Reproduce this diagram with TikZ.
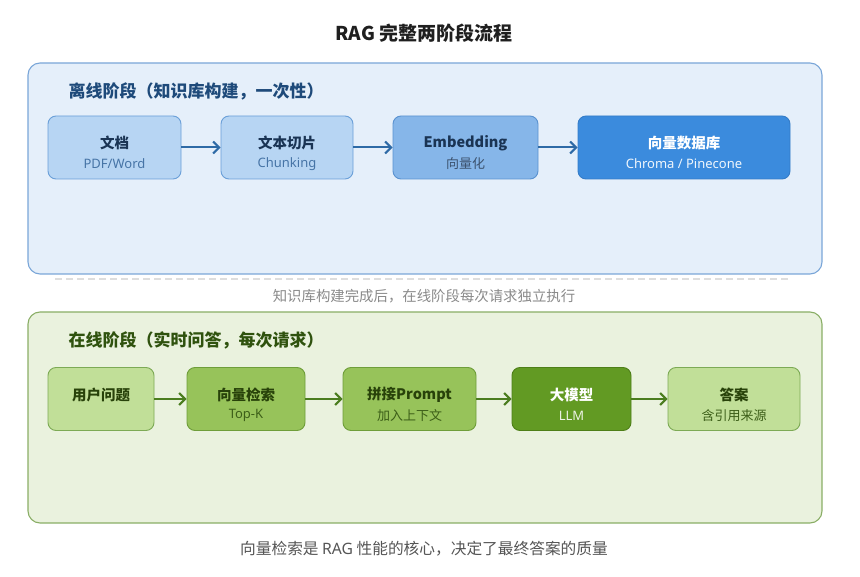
\documentclass[tikz,border=0pt]{standalone}
\usepackage{fontspec}
\usepackage{tikz}
\usetikzlibrary{arrows.meta}
\newfontfamily\cjk{Noto Sans CJK SC}
\newfontfamily\lat{Noto Sans}
\definecolor{offbg}{RGB}{229,239,250}
\definecolor{offedge}{RGB}{122,166,216}
\definecolor{offlight}{RGB}{183,213,243}
\definecolor{offlightedge}{RGB}{106,159,216}
\definecolor{offmid}{RGB}{134,182,233}
\definecolor{offmidedge}{RGB}{90,146,208}
\definecolor{offdark}{RGB}{59,139,221}
\definecolor{offdarkedge}{RGB}{52,124,200}
\definecolor{offtitle}{RGB}{30,74,122}
\definecolor{offtext}{RGB}{26,52,84}
\definecolor{offsub}{RGB}{70,116,166}
\definecolor{offarrow}{RGB}{46,106,166}
\definecolor{onbg}{RGB}{234,242,222}
\definecolor{onedge}{RGB}{138,174,102}
\definecolor{onlight}{RGB}{193,223,152}
\definecolor{onlightedge}{RGB}{125,170,85}
\definecolor{onmid}{RGB}{151,195,90}
\definecolor{onmidedge}{RGB}{111,158,58}
\definecolor{ondark}{RGB}{98,154,35}
\definecolor{ondarkedge}{RGB}{78,127,24}
\definecolor{ontitle}{RGB}{47,82,14}
\definecolor{ontext}{RGB}{40,66,10}
\definecolor{onsub}{RGB}{60,94,24}
\definecolor{onarrow}{RGB}{75,125,31}
\definecolor{dashgrey}{RGB}{222,222,222}
\definecolor{notegrey}{RGB}{138,138,138}
\definecolor{footgrey}{RGB}{85,85,85}

\begin{document}
\begin{tikzpicture}[x=1pt,y=-1pt,
    panel/.style={rounded corners=12pt, line width=1.1pt},
    stage/.style={rectangle, rounded corners=8pt, line width=0.9pt, inner sep=0pt, minimum height=63pt},
    maintxt/.style={font=\cjk\bfseries\fontsize{14.5}{16}\selectfont},
    subtxt/.style={font=\cjk\fontsize{13}{15}\selectfont},
    flow/.style={line width=2pt, -{Straight Barb[length=6pt,width=12pt,line width=2pt]}}]
  \useasboundingbox (0,0) rectangle (860,577);

  % title
  \node[font=\cjk\bfseries\fontsize{19}{21}\selectfont, text=black!88] (title) at (424,33) {RAG 完整两阶段流程};

  % offline stage
  \draw[panel, fill=offbg, draw=offedge] (28,63) rectangle (822,274);
  \node[anchor=west, font=\cjk\bfseries\fontsize{17}{19}\selectfont, text=offtitle] (offhead) at (65,91) {离线阶段（知识库构建，一次性）};

  \node[stage, fill=offlight, draw=offlightedge, minimum width=133pt] (doc) at (114.5,147.5) {};
  \node[stage, fill=offlight, draw=offlightedge, minimum width=132pt] (chunk) at (287,147.5) {};
  \node[stage, fill=offmid, draw=offmidedge, minimum width=145pt] (embed) at (465.5,147.5) {};
  \node[stage, fill=offdark, draw=offdarkedge, minimum width=212pt] (vdb) at (684,147.5) {};

  \node[maintxt, text=offtext] at ([yshift=4.5pt]doc.center) {文档};
  \node[subtxt, text=offsub] at ([yshift=-16.5pt]doc.center) {\lat PDF/Word};
  \node[maintxt, text=offtext] at ([yshift=4.5pt]chunk.center) {文本切片};
  \node[subtxt, text=offsub] at ([yshift=-16.5pt]chunk.center) {\lat Chunking};
  \node[maintxt, text=offtext] at ([yshift=4.5pt]embed.center) {Embedding};
  \node[subtxt, text=offtext!85] at ([yshift=-16.5pt]embed.center) {向量化};
  \node[maintxt, text=white] at ([yshift=4.5pt]vdb.center) {向量数据库};
  \node[subtxt, text=white!92!offdark] at ([yshift=-16.5pt]vdb.center) {\lat Chroma / Pinecone};

  \draw[flow, offarrow] (doc) -- (chunk);
  \draw[flow, offarrow] (chunk) -- (embed);
  \draw[flow, offarrow] (embed) -- (vdb);

  % separator
  \draw[dashgrey, line width=1.3pt, dash pattern=on 7pt off 4pt] (55,279) -- (790,279);
  \node[font=\cjk\fontsize{14.4}{16}\selectfont, text=notegrey] (note) at (424,296) {知识库构建完成后，在线阶段每次请求独立执行};

  % online stage
  \draw[panel, fill=onbg, draw=onedge] (28,312) rectangle (822,523);
  \node[anchor=west, font=\cjk\bfseries\fontsize{17}{19}\selectfont, text=ontitle] (onhead) at (65,340) {在线阶段（实时问答，每次请求）};

  \node[stage, fill=onlight, draw=onlightedge, minimum width=106pt] (ask) at (101,399) {};
  \node[stage, fill=onmid, draw=onmidedge, minimum width=118pt] (search) at (246,399) {};
  \node[stage, fill=onmid, draw=onmidedge, minimum width=133pt] (prompt) at (409.5,399) {};
  \node[stage, fill=ondark, draw=ondarkedge, minimum width=119pt] (llm) at (571.5,399) {};
  \node[stage, fill=onlight, draw=onlightedge, minimum width=132pt] (answer) at (734,399) {};

  \node[maintxt, text=ontext] at ([yshift=4pt]ask.center) {用户问题};
  \node[maintxt, text=ontext] at ([yshift=4.5pt]search.center) {向量检索};
  \node[subtxt, text=onsub] at ([yshift=-16.5pt]search.center) {\lat Top-K};
  \node[maintxt, text=ontext] at ([yshift=4.5pt]prompt.center) {拼接Prompt};
  \node[subtxt, text=onsub] at ([yshift=-16.5pt]prompt.center) {加入上下文};
  \node[maintxt, text=white] at ([yshift=4.5pt]llm.center) {大模型};
  \node[subtxt, text=white!88!ondark] at ([yshift=-16.5pt]llm.center) {\lat LLM};
  \node[maintxt, text=ontext] at ([yshift=4.5pt]answer.center) {答案};
  \node[subtxt, text=onsub] at ([yshift=-16.5pt]answer.center) {含引用来源};

  \draw[flow, onarrow] (ask) -- (search);
  \draw[flow, onarrow] (search) -- (prompt);
  \draw[flow, onarrow] (prompt) -- (llm);
  \draw[flow, onarrow] (llm) -- (answer);

  % footer
  \node[font=\cjk\fontsize{15.7}{17}\selectfont, text=footgrey] (foot) at (424,549) {向量检索是 {\lat RAG} 性能的核心，决定了最终答案的质量};
\end{tikzpicture}
\end{document}
